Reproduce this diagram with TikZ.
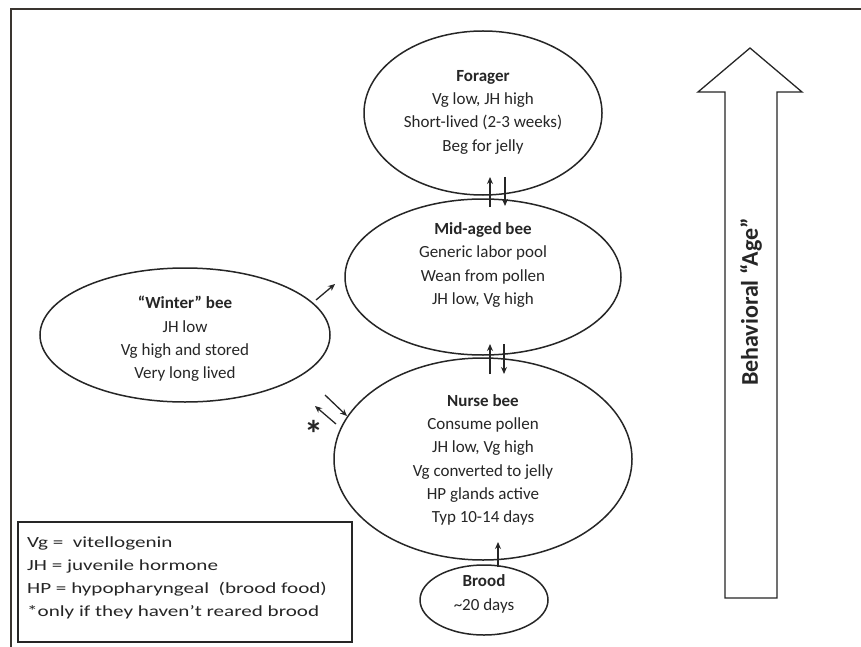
\documentclass[tikz,border=0pt]{standalone}
\usepackage{fontspec}
\setmainfont{Carlito}
\newfontfamily\legendfont[FakeStretch=1.36]{Carlito}
\usetikzlibrary{shapes.geometric,arrows.meta}
\definecolor{ink}{HTML}{262626}
\definecolor{frame}{HTML}{3A3530}
\tikzset{
  bee/.style={draw=ink, line width=1.5pt, ellipse, inner sep=0pt},
  beetext/.style={text=ink, align=center, font=\fontsize{17}{23.3}\selectfont, inner sep=0pt},
  smallarrow/.style={draw=ink, line width=1.3pt, -{Stealth[length=7pt,width=6pt]}},
}
\begin{document}
\begin{tikzpicture}[x=1pt,y=-1pt]
\useasboundingbox (0,0) rectangle (861,647);
\fill[white] (0,0) rectangle (861,647);
% outer frame (top and left only visible)
\draw[frame, line width=2pt] (11,647) -- (11,9) -- (861,9);

% ellipses
\node[bee, minimum width=238pt, minimum height=164pt] (forager) at (483,113) {};
\node[bee, minimum width=276pt, minimum height=156pt] (mid) at (483,277) {};
\node[bee, minimum width=290pt, minimum height=134pt] (winter) at (185,335) {};
\node[bee, minimum width=298pt, minimum height=202pt] (nurse) at (483,459) {};
\node[bee, minimum width=128pt, minimum height=70pt] (brood) at (484,600) {};

% texts
\node[beetext] (forageTxt) at (483,112) {\textbf{Forager}\\Vg low, JH high\\Short-lived (2-3 weeks)\\Beg for jelly};
\node[beetext] (midTxt) at (483,265) {\textbf{Mid-aged bee}\\Generic labor pool\\Wean from pollen\\JH low, Vg high};
\node[beetext] (winterTxt) at (185,339) {\textbf{“Winter” bee}\\JH low\\Vg high and stored\\Very long lived};
\node[beetext] (nurseTxt) at (483,460) {\textbf{Nurse bee}\\Consume pollen\\JH low, Vg high\\Vg converted to jelly\\HP glands active\\Typ 10-14 days};
\node[beetext] (broodTxt) at (484,594) {\textbf{Brood}\\\textasciitilde20 days};

% small arrows
\coordinate (fmA1) at (490,207); \coordinate (fmA2) at (490,177);
\coordinate (fmB1) at (505,177); \coordinate (fmB2) at (505,206);
\coordinate (mnA1) at (490,374); \coordinate (mnA2) at (490,344);
\coordinate (mnB1) at (504,344); \coordinate (mnB2) at (504,374);
\coordinate (bnA1) at (498,567); \coordinate (bnA2) at (498,542);
\coordinate (wmA1) at (316,300); \coordinate (wmA2) at (335,284);
\coordinate (wnA1) at (325,395); \coordinate (wnA2) at (347,416);
\coordinate (nwA1) at (336,424); \coordinate (nwA2) at (315,406);
\draw[smallarrow] (fmA1) -- (fmA2);
\draw[smallarrow] (fmB1) -- (fmB2);
\draw[smallarrow] (mnA1) -- (mnA2);
\draw[smallarrow] (mnB1) -- (mnB2);
\draw[smallarrow] (bnA1) -- (bnA2);
\draw[smallarrow] (wmA1) -- (wmA2);
\draw[smallarrow] (wnA1) -- (wnA2);
\draw[smallarrow] (nwA1) -- (nwA2);
\node[text=ink, font=\fontsize{38}{38}\selectfont\bfseries, inner sep=0pt] (star) at (314,434) {*};

% legend
\node[draw=ink, line width=1.5pt, minimum width=334pt, minimum height=120pt, inner sep=0pt] (legendbox) at (185,582) {};
\node[text=ink, align=left, anchor=west, font=\legendfont\fontsize{15.5}{23}\selectfont, inner sep=0pt] (legendTxt) at (27,578)
  {Vg =\ \ vitellogenin\\JH = juvenile hormone\\HP = hypopharyngeal\ \ (brood food)\\*only if they haven’t reared brood};

% behavioral age arrow
\draw[ink, line width=1.3pt, fill=white] (725,598) -- (725,92) -- (698,92) -- (750,48) -- (802,92) -- (777,92) -- (777,598) -- cycle;
\node[text=ink, rotate=90, font=\fontsize{24}{26}\selectfont\bfseries, inner sep=0pt] (ageTxt) at (751,302) {Behavioral “Age”};
\end{tikzpicture}
\end{document}
